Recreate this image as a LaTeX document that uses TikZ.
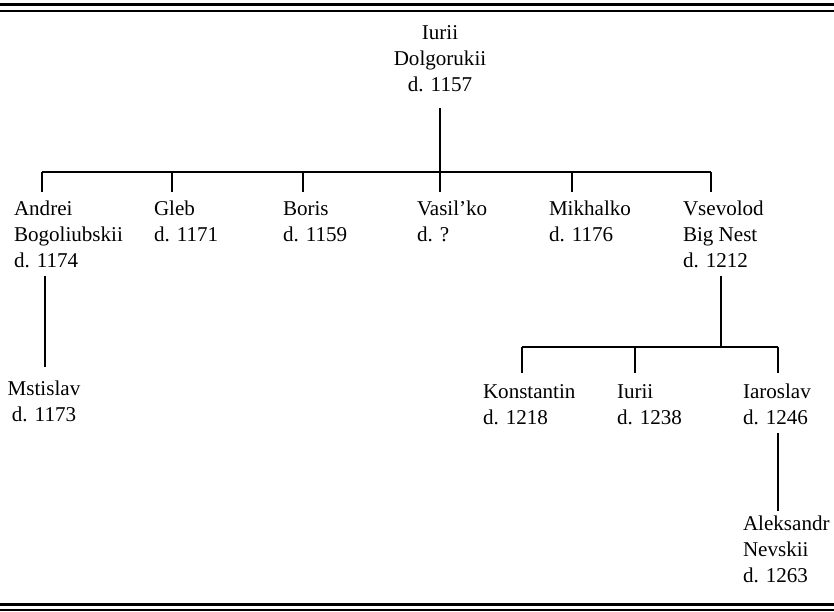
\documentclass[tikz,border=0pt]{standalone}
\usepackage{fontspec}
\setmainfont{Liberation Serif}
\usetikzlibrary{calc}
\begin{document}
\begin{tikzpicture}[x=0.75pt,y=-0.75pt,
  person/.style={inner sep=0pt, outer sep=0pt, anchor=base west, font=\fontsize{15.8}{19.5}\selectfont},
  centred/.style={person, anchor=base},
  link/.style={line width=0.9pt},
  thickrule/.style={line width=1.9pt},
  thinrule/.style={line width=1.1pt}]
\useasboundingbox (0,0) rectangle (834,611);
% frame rules
\coordinate (tl1) at (0,4.5);   \coordinate (tr1) at (834,4.5);
\coordinate (tl2) at (0,11);    \coordinate (tr2) at (834,11);
\coordinate (bl1) at (0,604.5); \coordinate (br1) at (834,604.5);
\coordinate (bl2) at (0,610);   \coordinate (br2) at (834,610);
\draw[thickrule] (tl1) -- (tr1);
\draw[thinrule] (tl2) -- (tr2);
\draw[thickrule] (bl1) -- (br1);
\draw[thinrule] (bl2) -- (br2);

% people
\node[centred] (top) at (440,39) {\begin{tabular}[t]{@{}c@{}}Iurii\\Dolgorukii\\d. 1157\end{tabular}};
\node[person] (andrei) at (14,215) {\begin{tabular}[t]{@{}l@{}}Andrei\\Bogoliubskii\\d. 1174\end{tabular}};
\node[person] (gleb) at (154,215) {\begin{tabular}[t]{@{}l@{}}Gleb\\d. 1171\end{tabular}};
\node[person] (boris) at (283,215) {\begin{tabular}[t]{@{}l@{}}Boris\\d. 1159\end{tabular}};
\node[person] (vasilko) at (417,215) {\begin{tabular}[t]{@{}l@{}}Vasil’ko\\d. ?\end{tabular}};
\node[person] (mikhalko) at (549,215) {\begin{tabular}[t]{@{}l@{}}Mikhalko\\d. 1176\end{tabular}};
\node[person] (vsevolod) at (683,215) {\begin{tabular}[t]{@{}l@{}}Vsevolod\\Big Nest\\d. 1212\end{tabular}};
\node[centred] (mstislav) at (44,395) {\begin{tabular}[t]{@{}c@{}}Mstislav\\d. 1173\end{tabular}};
\node[person] (konstantin) at (483,398) {\begin{tabular}[t]{@{}l@{}}Konstantin\\d. 1218\end{tabular}};
\node[person] (iurii) at (617,398) {\begin{tabular}[t]{@{}l@{}}Iurii\\d. 1238\end{tabular}};
\node[person] (iaroslav) at (743,398) {\begin{tabular}[t]{@{}l@{}}Iaroslav\\d. 1246\end{tabular}};
\node[person] (aleksandr) at (743,530) {\begin{tabular}[t]{@{}l@{}}Aleksandr\\Nevskii\\d. 1263\end{tabular}};

% first generation
\coordinate (bar1L) at (42,172);
\coordinate (bar1R) at (711,172);
\coordinate (t0) at ($(top.south)+(0,9)$);
\draw[link] (t0) -- (t0 |- bar1L);
\draw[link] (bar1L) -- (bar1R);
\foreach \n/\dx in {andrei/28, gleb/18, boris/20, vasilko/23, mikhalko/23, vsevolod/28}
  \draw[link] ($(\n.north west)+(\dx,-4.8)$) -- ++(0,-20);

% Andrei -> Mstislav
\draw[link] ($(andrei.south west)+(31,1)$) -- ($(mstislav.north)+(1,-10)$);

% Vsevolod's sons
\coordinate (bar2L) at (522,347);
\coordinate (bar2R) at (778,347);
\coordinate (v0) at ($(vsevolod.south west)+(38,1)$);
\draw[link] (v0) -- (v0 |- bar2L);
\draw[link] (bar2L) -- (bar2R);
\foreach \n/\dx in {konstantin/39, iurii/18, iaroslav/35}
  \draw[link] ($(\n.north west)+(\dx,-6.8)$) -- ++(0,-26);

% Iaroslav -> Aleksandr
\draw[link] ($(iaroslav.south west)+(35,1)$) -- ($(aleksandr.north west)+(35,-1)$);
\end{tikzpicture}
\end{document}
